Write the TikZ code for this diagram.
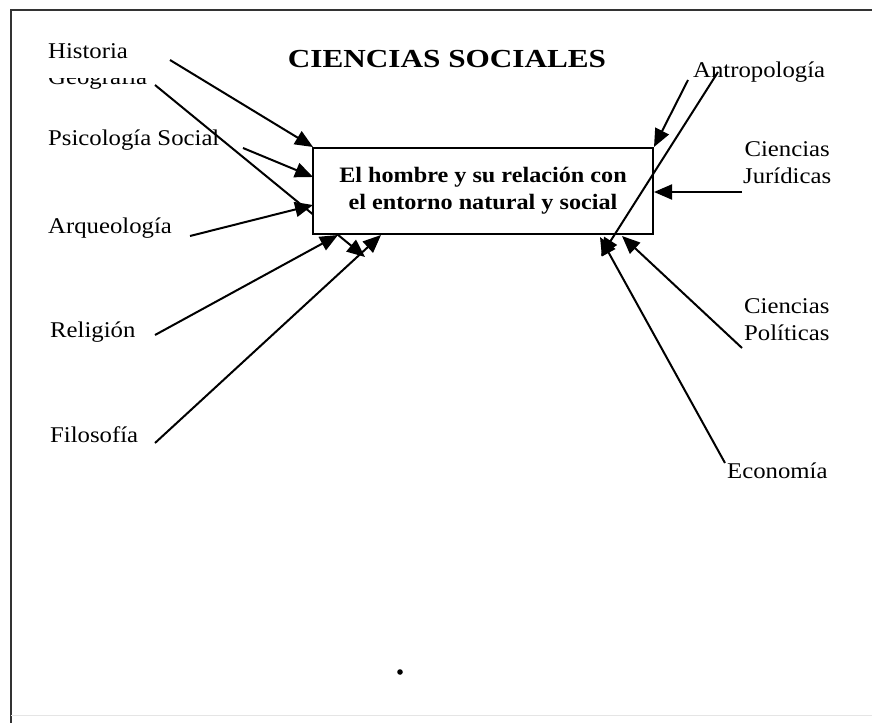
\documentclass[tikz,border=0pt]{standalone}
\usepackage{fontspec}
\setmainfont{Liberation Serif}
\newfontfamily\lblfont[FakeStretch=1.1]{Liberation Serif}
\newfontfamily\ttlfont[FakeStretch=1.2]{Liberation Serif}
\usetikzlibrary{arrows.meta}
\begin{document}
\begin{tikzpicture}[x=1pt,y=-1pt,
  lbl/.style={inner sep=0pt,font=\lblfont\fontsize{22.5}{27}\selectfont},
  conn/.style={line width=2pt,-{Triangle[length=18pt,width=15pt]}},
  centrebox/.style={draw,line width=1.8pt,fill=white,minimum width=340pt,minimum height=86pt,inner sep=0pt,align=center,
     font=\lblfont\bfseries\fontsize{22}{27}\selectfont}]
\useasboundingbox (0,0) rectangle (872,723);
% frame
\draw[line width=2pt,black!80] (872,10) -- (11,10) -- (11,723);
\draw[line width=1pt,black!10] (11,715) -- (872,715);
% title
\node[anchor=base,inner sep=0pt,font=\ttlfont\bfseries\fontsize{26}{30}\selectfont] (title) at (447,67) {CIENCIAS SOCIALES};
% labels
\node[lbl,anchor=base west] (hist) at (48,58) {Historia};
\begin{scope}
\clip (0,78) rectangle (200,100);
\node[lbl,anchor=base west] (geo) at (48,84) {Geografía};
\end{scope}
\node[lbl,anchor=base west] (psi) at (48,145) {Psicología Social};
\node[lbl,anchor=base west] (arq) at (48,233) {Arqueología};
\node[lbl,anchor=base west] (rel) at (50,337) {Religión};
\node[lbl,anchor=base west] (fil) at (50,442) {Filosofía};
\node[lbl,anchor=base west] (ant) at (693,77) {Antropología};
\node[lbl,anchor=base west,align=center] (jur) at (743,183) {Ciencias\\Jurídicas};
\node[lbl,anchor=base west,align=center] (pol) at (744,340) {Ciencias\\Políticas};
\node[lbl,anchor=base west] (eco) at (727,478) {Economía};
% connector ends
\coordinate (hS) at (170,60);  \coordinate (hT) at (313,147);
\coordinate (gS) at (155,85);  \coordinate (gT) at (365,257);
\coordinate (pS) at (243,148); \coordinate (pT) at (313,177);
\coordinate (aS) at (190,236); \coordinate (aT) at (313,205);
\coordinate (rS) at (155,335); \coordinate (rT) at (338,235);
\coordinate (fS) at (155,443); \coordinate (fT) at (381,235);
\coordinate (anS) at (688,80); \coordinate (anT) at (654,147);
\coordinate (alS) at (718,72); \coordinate (alT) at (601,256);
\coordinate (jS) at (742,192); \coordinate (jT) at (654,192);
\coordinate (poS) at (742,348); \coordinate (poT) at (622,236);
\coordinate (eS) at (725,463); \coordinate (eT) at (600,237);
% connector hidden behind box
\draw[conn] (gS) -- (gT);
% central box
\node[centrebox] (box) at (483,191) {El hombre y su relación con\\el entorno natural y social};
% connectors
\draw[conn] (hS) -- (hT);
\draw[conn] (pS) -- (pT);
\draw[conn] (aS) -- (aT);
\draw[conn] (rS) -- (rT);
\draw[conn] (fS) -- (fT);
\draw[conn] (anS) -- (anT);
\draw[conn] (alS) -- (alT);
\draw[conn] (jS) -- (jT);
\draw[conn] (poS) -- (poT);
\draw[conn] (eS) -- (eT);
% stray dot
\fill (400,672) circle (2.8pt);
\end{tikzpicture}
\end{document}
